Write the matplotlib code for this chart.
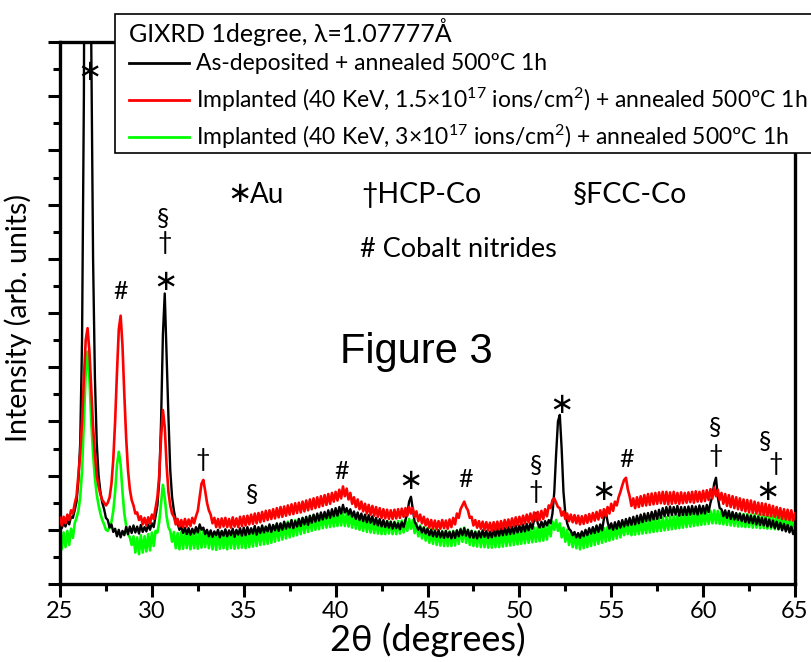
import matplotlib
matplotlib.use("Agg")
import matplotlib.pyplot as plt
import numpy as np
from matplotlib.patches import Rectangle
from matplotlib.lines import Line2D
from matplotlib.ticker import MultipleLocator

plt.rcParams['font.family'] = ['Lato', 'DejaVu Sans']
plt.rcParams['mathtext.fontset'] = 'custom'
plt.rcParams['mathtext.rm'] = 'Lato'
plt.rcParams['mathtext.it'] = 'Lato:italic'

as_deposited = [
    1.12, 1.03, 1.14, 1.06, 1.19, 1.10, 1.24, 1.22, 1.36, 1.52,
    1.90, 2.60, 4.50, 9.00, 20.0, 30.0, 22.0, 10.0, 6.00, 3.80,
    2.60, 2.00, 1.70, 1.50, 1.38, 1.22, 1.18, 1.04, 1.10, 0.96,
    1.02, 0.88, 1.00, 0.86, 0.98, 0.90, 1.05, 0.92, 1.06, 0.94,
    1.08, 0.95, 1.06, 0.93, 1.09, 0.96, 1.05, 0.97, 1.10, 1.00,
    1.12, 1.05, 1.25, 1.45, 1.90, 3.00, 4.60, 5.36, 4.20, 3.10,
    2.10, 1.60, 1.35, 1.18, 1.12, 1.00, 1.06, 0.94, 1.04, 0.92,
    1.03, 0.91, 1.02, 0.93, 1.05, 0.95, 1.10, 1.00, 1.04, 0.92,
    1.00, 0.88, 0.99, 0.87, 0.97, 0.90, 1.00, 0.86, 0.98, 0.89,
    1.01, 0.88, 0.99, 0.90, 1.02, 0.87, 1.00, 0.91, 1.03, 0.89,
    1.04, 0.90, 1.05, 0.92, 1.03, 0.93, 1.07, 0.91, 1.05, 0.94,
    1.08, 0.95, 1.06, 0.97, 1.10, 0.96, 1.09, 0.99, 1.12, 0.98,
    1.12, 1.00, 1.15, 1.02, 1.13, 1.04, 1.18, 1.03, 1.16, 1.06,
    1.20, 1.07, 1.22, 1.10, 1.24, 1.09, 1.26, 1.13, 1.28, 1.15,
    1.30, 1.17, 1.32, 1.19, 1.33, 1.21, 1.36, 1.22, 1.38, 1.25,
    1.40, 1.26, 1.42, 1.30, 1.46, 1.32, 1.40, 1.28, 1.38, 1.24,
    1.34, 1.20, 1.32, 1.18, 1.30, 1.16, 1.28, 1.14, 1.27, 1.13,
    1.25, 1.10, 1.22, 1.08, 1.20, 1.06, 1.18, 1.05, 1.16, 1.04,
    1.15, 1.02, 1.14, 1.03, 1.12, 1.01, 1.14, 1.05, 1.18, 1.30,
    1.52, 1.61, 1.38, 1.15, 1.08, 1.00, 1.06, 0.95, 1.04, 0.93,
    1.02, 0.90, 1.00, 0.88, 0.98, 0.87, 0.99, 0.86, 0.97, 0.85,
    0.98, 0.86, 0.96, 0.84, 0.97, 0.85, 0.99, 0.88, 1.01, 0.90,
    1.03, 0.89, 1.00, 0.86, 0.98, 0.85, 0.96, 0.84, 0.97, 0.86,
    0.99, 0.87, 0.98, 0.85, 0.97, 0.86, 1.00, 0.88, 1.02, 0.89,
    1.03, 0.90, 1.04, 0.91, 1.05, 0.92, 1.06, 0.93, 1.08, 0.95,
    1.08, 0.96, 1.10, 0.97, 1.11, 0.99, 1.12, 1.02, 1.18, 1.31,
    1.12, 1.04, 1.15, 1.05, 1.16, 1.08, 1.18, 1.12, 1.30, 1.70,
    2.40, 3.00, 3.12, 2.50, 1.70, 1.30, 1.12, 1.02, 0.98, 0.90,
    0.96, 0.86, 0.94, 0.85, 0.97, 0.88, 1.00, 0.90, 1.03, 0.93,
    1.05, 0.94, 1.08, 0.96, 1.10, 0.99, 1.20, 1.35, 1.15, 1.02,
    1.12, 1.00, 1.14, 1.02, 1.16, 1.04, 1.18, 1.06, 1.20, 1.08,
    1.22, 1.09, 1.24, 1.10, 1.26, 1.12, 1.28, 1.14, 1.30, 1.16,
    1.31, 1.17, 1.33, 1.19, 1.35, 1.20, 1.37, 1.22, 1.40, 1.25,
    1.42, 1.26, 1.43, 1.27, 1.42, 1.28, 1.44, 1.26, 1.42, 1.27,
    1.42, 1.27, 1.43, 1.28, 1.44, 1.29, 1.43, 1.28, 1.45, 1.30,
    1.44, 1.30, 1.46, 1.33, 1.50, 1.62, 1.85, 1.96, 1.60, 1.40,
    1.38, 1.25, 1.36, 1.22, 1.35, 1.20, 1.33, 1.19, 1.31, 1.18,
    1.30, 1.16, 1.28, 1.14, 1.27, 1.13, 1.26, 1.12, 1.25, 1.10,
    1.24, 1.09, 1.22, 1.08, 1.21, 1.06, 1.19, 1.05, 1.17, 1.03,
    1.15, 1.01, 1.13, 0.99, 1.11, 0.97, 1.09, 0.95, 1.06, 0.92,
    1.00,
]

implanted_15 = [
    1.22, 1.08, 1.24, 1.12, 1.28, 1.18, 1.36, 1.30, 1.48, 1.62,
    2.00, 2.40, 3.00, 3.80, 4.50, 4.72, 4.30, 3.60, 2.90, 2.40,
    2.00, 1.80, 1.65, 1.55, 1.50, 1.45, 1.50, 1.60, 1.85, 2.30,
    3.00, 3.90, 4.70, 4.95, 4.40, 3.50, 2.70, 2.10, 1.75, 1.55,
    1.45, 1.30, 1.32, 1.18, 1.25, 1.10, 1.22, 1.08, 1.23, 1.12,
    1.28, 1.20, 1.40, 1.60, 2.00, 2.70, 3.21, 2.90, 2.20, 1.70,
    1.45, 1.30, 1.24, 1.10, 1.20, 1.06, 1.18, 1.05, 1.20, 1.06,
    1.19, 1.07, 1.22, 1.12, 1.25, 1.35, 1.60, 1.85, 1.92, 1.72,
    1.50, 1.36, 1.28, 1.12, 1.22, 1.05, 1.20, 1.04, 1.21, 1.06,
    1.22, 1.05, 1.20, 1.04, 1.23, 1.06, 1.21, 1.05, 1.24, 1.07,
    1.25, 1.08, 1.26, 1.10, 1.28, 1.11, 1.30, 1.12, 1.31, 1.14,
    1.33, 1.16, 1.35, 1.18, 1.36, 1.20, 1.38, 1.21, 1.40, 1.23,
    1.42, 1.24, 1.43, 1.26, 1.45, 1.28, 1.47, 1.29, 1.49, 1.31,
    1.50, 1.32, 1.52, 1.34, 1.54, 1.36, 1.56, 1.38, 1.58, 1.40,
    1.60, 1.42, 1.62, 1.44, 1.64, 1.46, 1.66, 1.48, 1.68, 1.52,
    1.70, 1.54, 1.74, 1.58, 1.80, 1.62, 1.76, 1.56, 1.68, 1.48,
    1.60, 1.42, 1.56, 1.38, 1.52, 1.34, 1.48, 1.30, 1.46, 1.28,
    1.44, 1.26, 1.42, 1.24, 1.40, 1.22, 1.38, 1.21, 1.37, 1.20,
    1.36, 1.20, 1.37, 1.21, 1.38, 1.22, 1.39, 1.24, 1.40, 1.26,
    1.42, 1.30, 1.40, 1.24, 1.34, 1.16, 1.28, 1.12, 1.24, 1.08,
    1.20, 1.04, 1.18, 1.02, 1.17, 1.01, 1.16, 1.02, 1.18, 1.03,
    1.17, 1.02, 1.19, 1.05, 1.22, 1.10, 1.30, 1.22, 1.38, 1.45,
    1.52, 1.42, 1.36, 1.22, 1.24, 1.08, 1.18, 1.04, 1.16, 1.02,
    1.15, 1.00, 1.14, 0.99, 1.13, 0.98, 1.14, 1.00, 1.15, 1.01,
    1.16, 1.02, 1.18, 1.04, 1.19, 1.05, 1.21, 1.07, 1.23, 1.09,
    1.24, 1.10, 1.26, 1.12, 1.28, 1.14, 1.30, 1.15, 1.32, 1.17,
    1.33, 1.18, 1.35, 1.20, 1.38, 1.25, 1.45, 1.40, 1.55, 1.58,
    1.50, 1.42, 1.40, 1.26, 1.34, 1.20, 1.30, 1.16, 1.28, 1.14,
    1.27, 1.12, 1.26, 1.10, 1.25, 1.11, 1.27, 1.13, 1.29, 1.15,
    1.31, 1.17, 1.33, 1.19, 1.36, 1.22, 1.38, 1.25, 1.42, 1.30,
    1.48, 1.35, 1.52, 1.45, 1.60, 1.70, 1.82, 1.92, 1.96, 1.75,
    1.62, 1.44, 1.58, 1.40, 1.60, 1.42, 1.62, 1.44, 1.64, 1.45,
    1.66, 1.46, 1.67, 1.47, 1.68, 1.48, 1.69, 1.49, 1.70, 1.48,
    1.70, 1.47, 1.69, 1.48, 1.70, 1.49, 1.68, 1.48, 1.69, 1.49,
    1.68, 1.50, 1.69, 1.51, 1.70, 1.50, 1.71, 1.52, 1.70, 1.52,
    1.72, 1.53, 1.73, 1.55, 1.75, 1.58, 1.78, 1.62, 1.74, 1.55,
    1.68, 1.48, 1.66, 1.44, 1.64, 1.42, 1.62, 1.40, 1.60, 1.38,
    1.58, 1.36, 1.56, 1.34, 1.55, 1.32, 1.54, 1.31, 1.52, 1.30,
    1.50, 1.28, 1.49, 1.27, 1.48, 1.26, 1.46, 1.25, 1.44, 1.24,
    1.42, 1.22, 1.40, 1.20, 1.38, 1.19, 1.37, 1.18, 1.36, 1.17,
    1.30,
]

implanted_3 = [
    0.92, 0.64, 0.95, 0.68, 0.98, 0.72, 1.02, 0.85, 1.12, 1.22,
    1.35, 1.60, 2.10, 3.00, 3.90, 4.29, 3.80, 3.00, 2.40, 1.95,
    1.65, 1.45, 1.30, 1.18, 1.10, 1.00, 0.98, 1.05, 1.15, 1.35,
    1.70, 2.20, 2.44, 2.20, 1.70, 1.30, 1.08, 0.92, 0.86, 0.72,
    0.88, 0.58, 0.86, 0.55, 0.90, 0.58, 0.88, 0.60, 0.92, 0.62,
    0.95, 0.70, 0.98, 0.95, 1.15, 1.50, 1.83, 1.60, 1.25, 1.05,
    0.98, 0.78, 0.96, 0.66, 0.94, 0.64, 0.96, 0.65, 0.97, 0.66,
    0.95, 0.64, 0.97, 0.66, 0.96, 0.65, 0.98, 0.67, 0.99, 0.68,
    0.97, 0.66, 0.96, 0.64, 0.95, 0.63, 0.96, 0.65, 0.97, 0.66,
    0.96, 0.64, 0.97, 0.66, 0.98, 0.65, 0.97, 0.66, 0.98, 0.67,
    0.98, 0.66, 0.99, 0.68, 1.00, 0.69, 1.01, 0.70, 1.03, 0.72,
    1.04, 0.73, 1.05, 0.74, 1.07, 0.76, 1.08, 0.78, 1.10, 0.80,
    1.11, 0.82, 1.13, 0.84, 1.15, 0.86, 1.17, 0.88, 1.18, 0.90,
    1.20, 0.92, 1.22, 0.94, 1.23, 0.96, 1.25, 0.98, 1.26, 1.00,
    1.27, 1.01, 1.28, 1.03, 1.29, 1.04, 1.30, 1.05, 1.31, 1.06,
    1.32, 1.07, 1.33, 1.08, 1.32, 1.07, 1.31, 1.06, 1.30, 1.04,
    1.28, 1.02, 1.26, 1.00, 1.24, 0.98, 1.22, 0.96, 1.20, 0.95,
    1.19, 0.94, 1.18, 0.93, 1.17, 0.92, 1.16, 0.92, 1.16, 0.93,
    1.15, 0.92, 1.15, 0.92, 1.16, 0.93, 1.17, 0.95, 1.18, 0.98,
    1.20, 1.02, 1.18, 0.94, 1.12, 0.88, 1.08, 0.84, 1.05, 0.80,
    1.03, 0.76, 1.01, 0.74, 1.00, 0.72, 0.99, 0.71, 0.98, 0.70,
    0.98, 0.70, 0.97, 0.70, 0.98, 0.71, 0.99, 0.74, 1.02, 0.78,
    1.04, 0.76, 1.00, 0.72, 0.98, 0.70, 0.97, 0.69, 0.97, 0.68,
    0.96, 0.68, 0.96, 0.67, 0.95, 0.67, 0.96, 0.68, 0.96, 0.68,
    0.97, 0.69, 0.97, 0.70, 0.98, 0.71, 0.99, 0.72, 1.00, 0.73,
    1.00, 0.74, 1.01, 0.75, 1.02, 0.76, 1.03, 0.77, 1.04, 0.78,
    1.05, 0.79, 1.06, 0.80, 1.08, 0.82, 1.10, 0.88, 1.15, 1.00,
    1.18, 0.98, 1.12, 0.86, 1.04, 0.78, 1.00, 0.72, 0.96, 0.68,
    0.94, 0.66, 0.93, 0.64, 0.94, 0.66, 0.96, 0.68, 0.98, 0.70,
    0.99, 0.72, 1.00, 0.74, 1.02, 0.76, 1.03, 0.78, 1.05, 0.80,
    1.06, 0.82, 1.08, 0.84, 1.10, 0.86, 1.12, 0.90, 1.14, 0.92,
    1.13, 0.90, 1.14, 0.91, 1.15, 0.92, 1.16, 0.93, 1.17, 0.94,
    1.18, 0.95, 1.19, 0.96, 1.20, 0.97, 1.21, 0.98, 1.22, 0.99,
    1.23, 1.00, 1.24, 1.01, 1.25, 1.02, 1.26, 1.03, 1.27, 1.04,
    1.28, 1.05, 1.29, 1.06, 1.30, 1.07, 1.31, 1.08, 1.32, 1.09,
    1.33, 1.10, 1.34, 1.11, 1.35, 1.12, 1.36, 1.12, 1.35, 1.11,
    1.34, 1.10, 1.33, 1.09, 1.32, 1.08, 1.31, 1.07, 1.30, 1.06,
    1.30, 1.06, 1.29, 1.05, 1.29, 1.05, 1.28, 1.04, 1.28, 1.04,
    1.27, 1.03, 1.27, 1.03, 1.26, 1.02, 1.26, 1.02, 1.25, 1.01,
    1.25, 1.01, 1.24, 1.00, 1.24, 1.00, 1.23, 0.99, 1.23, 0.99,
    1.12,
]

two_theta = np.linspace(25, 65, len(as_deposited))

# peak markers: (symbol, 2theta, height)
markers = [
    ('∗', 26.63, 9.45),
    ('#', 28.32, 5.39),
    ('§', 30.62, 6.75), ('†', 30.68, 6.30), ('∗', 30.75, 5.57),
    ('†', 32.78, 2.29),
    ('§', 35.45, 1.66),
    ('#', 40.35, 2.07),
    ('∗', 44.10, 1.90),
    ('#', 47.10, 1.92),
    ('§', 50.90, 2.18), ('†', 50.90, 1.70),
    ('∗', 52.27, 3.30),
    ('∗', 54.60, 1.70),
    ('#', 55.86, 2.29),
    ('§', 60.67, 2.88), ('†', 60.70, 2.38),
    ('§', 63.37, 2.62), ('†', 63.95, 2.22), ('∗', 63.50, 1.70),
]

fig = plt.figure(figsize=(8.11, 6.62), dpi=100)
ax = fig.add_axes([60 / 811, 1 - 584 / 662, 735 / 811, 542 / 662])

ax.plot(two_theta, implanted_3, color='#00ff00', lw=1.9, zorder=2)
ax.plot(two_theta, as_deposited, color='black', lw=1.7, zorder=3)
ax.plot(two_theta, implanted_15, color='#ff0000', lw=1.9, zorder=4)

for sym, xx, yy in markers:
    if sym == '∗':
        ax.text(xx, yy, sym, fontsize=21, ha='center', va='center',
                family='DejaVu Sans', zorder=6)
    else:
        ax.text(xx, yy, sym, fontsize=18, ha='center', va='center', zorder=6)

ax.text(34.75, 7.2, '∗', fontsize=21, ha='center', va='center', family='DejaVu Sans')
ax.text(35.35, 7.18, 'Au', fontsize=20, ha='left', va='center')
ax.text(41.4, 7.18, '†HCP-Co', fontsize=20.5, ha='left', va='center')
ax.text(52.9, 7.18, '§FCC-Co', fontsize=20.5, ha='left', va='center')
ax.text(41.3, 6.18, '# Cobalt nitrides', fontsize=19.5, ha='left', va='center')
ax.text(44.37, 4.28, 'Figure 3', fontsize=30, ha='center', va='center',
        family='Liberation Sans')

ax.set_xlim(25, 65)
ax.set_ylim(0, 10)
ax.xaxis.set_major_locator(MultipleLocator(5))
ax.xaxis.set_minor_locator(MultipleLocator(2.5))
ax.yaxis.set_major_locator(MultipleLocator(1))
ax.yaxis.set_minor_locator(MultipleLocator(0.5))
ax.tick_params(which='both', direction='out', width=2.2, top=False, right=False)
ax.tick_params(which='major', length=9, labelsize=17)
ax.tick_params(which='minor', length=5)
ax.tick_params(axis='y', labelleft=False)
for s in ax.spines.values():
    s.set_linewidth(2.4)

ax.set_xlabel('2θ (degrees)', fontsize=26, labelpad=0)
ax.set_ylabel('Intensity (arb. units)', fontsize=20.5)
ax.yaxis.set_label_coords(-0.038, 0.49)

# legend box, running off the right edge as in the original
fig.add_artist(Rectangle((115 / 811, 1 - 153 / 662), 0.9, 139 / 662,
                         transform=fig.transFigure, facecolor='white',
                         edgecolor='black', lw=1.2, zorder=10, clip_on=False))
fig.text(129 / 811, 1 - 32 / 662, 'GIXRD 1degree, λ=1.07777Å', fontsize=18,
         va='center', zorder=11)
leg_labels = [
    'As-deposited + annealed 500ºC 1h',
    'Implanted (40 KeV, 1.5×10$^{17}$ ions/cm$^{2}$) + annealed 500ºC 1h',
    'Implanted (40 KeV, 3×10$^{17}$ ions/cm$^{2}$) + annealed 500ºC 1h',
]
leg_colors = ['black', '#ff0000', '#00ff00']
leg_y = [63, 100, 137]
for lab, c, yy in zip(leg_labels, leg_colors, leg_y):
    fig.add_artist(Line2D([129 / 811, 189 / 811], [1 - yy / 662] * 2, color=c,
                          lw=2, transform=fig.transFigure, zorder=11))
    fig.text(196 / 811, 1 - yy / 662, lab, fontsize=16.5, va='center', zorder=11)

fig.savefig('out.png', dpi=100)
